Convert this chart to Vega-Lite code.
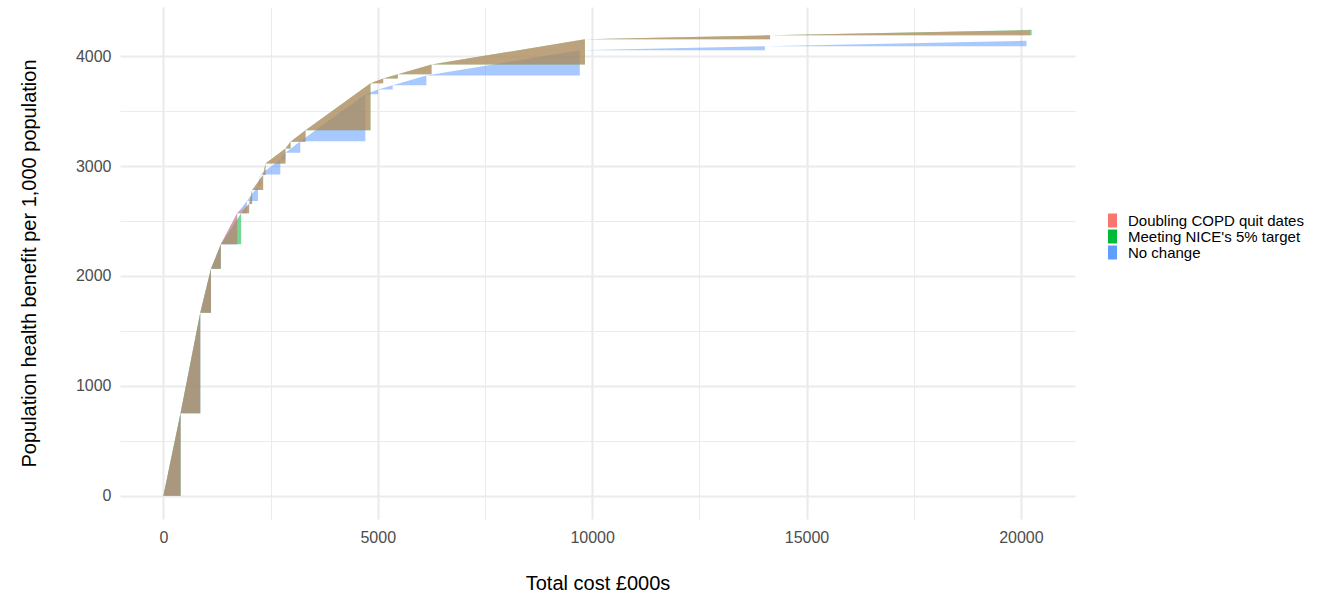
{
  "$schema": "https://vega.github.io/schema/vega-lite/v6.json",
  "width": 955,
  "height": 512,
  "autosize": {"type": "none"},
  "padding": {"left": 120, "top": 7, "right": 247, "bottom": 75},
  "background": "white",
  "config": {
    "view": {"stroke": null},
    "font": "Liberation Sans",
    "axis": {
      "domain": false,
      "ticks": false,
      "tickSize": 0,
      "gridColor": "#EBEBEB",
      "labelColor": "#4D4D4D",
      "labelFontSize": 16,
      "titleFontSize": 20,
      "titleFontWeight": "normal",
      "titleColor": "#000000"
    }
  },
  "data": {
    "values": [
      {"s": "Doubling COPD quit dates", "t": 1, "x": 0, "y": 0, "b": 0},
      {"s": "Doubling COPD quit dates", "t": 1, "x": 400, "y": 750, "b": 0},
      {"s": "Doubling COPD quit dates", "t": 2, "x": 400, "y": 750, "b": 750},
      {"s": "Doubling COPD quit dates", "t": 2, "x": 860, "y": 1665, "b": 750},
      {"s": "Doubling COPD quit dates", "t": 3, "x": 860, "y": 1665, "b": 1665},
      {"s": "Doubling COPD quit dates", "t": 3, "x": 1110, "y": 2065, "b": 1665},
      {"s": "Doubling COPD quit dates", "t": 4, "x": 1110, "y": 2065, "b": 2065},
      {"s": "Doubling COPD quit dates", "t": 4, "x": 1340, "y": 2288, "b": 2065},
      {"s": "Doubling COPD quit dates", "t": 5, "x": 1340, "y": 2288, "b": 2288},
      {"s": "Doubling COPD quit dates", "t": 5, "x": 1720, "y": 2570, "b": 2288},
      {"s": "Doubling COPD quit dates", "t": 6, "x": 1720, "y": 2570, "b": 2570},
      {"s": "Doubling COPD quit dates", "t": 6, "x": 2000, "y": 2655, "b": 2570},
      {"s": "Doubling COPD quit dates", "t": 7, "x": 2000, "y": 2655, "b": 2655},
      {"s": "Doubling COPD quit dates", "t": 7, "x": 2070, "y": 2782, "b": 2655},
      {"s": "Doubling COPD quit dates", "t": 8, "x": 2070, "y": 2782, "b": 2782},
      {"s": "Doubling COPD quit dates", "t": 8, "x": 2326, "y": 2918, "b": 2782},
      {"s": "Doubling COPD quit dates", "t": 9, "x": 2326, "y": 2918, "b": 2918},
      {"s": "Doubling COPD quit dates", "t": 9, "x": 2380, "y": 3024, "b": 2918},
      {"s": "Doubling COPD quit dates", "t": 10, "x": 2380, "y": 3024, "b": 3024},
      {"s": "Doubling COPD quit dates", "t": 10, "x": 2847, "y": 3161, "b": 3024},
      {"s": "Doubling COPD quit dates", "t": 11, "x": 2847, "y": 3161, "b": 3161},
      {"s": "Doubling COPD quit dates", "t": 11, "x": 2964, "y": 3221, "b": 3161},
      {"s": "Doubling COPD quit dates", "t": 12, "x": 2964, "y": 3221, "b": 3221},
      {"s": "Doubling COPD quit dates", "t": 12, "x": 3314, "y": 3327, "b": 3221},
      {"s": "Doubling COPD quit dates", "t": 13, "x": 3314, "y": 3327, "b": 3327},
      {"s": "Doubling COPD quit dates", "t": 13, "x": 4830, "y": 3755, "b": 3327},
      {"s": "Doubling COPD quit dates", "t": 14, "x": 4830, "y": 3755, "b": 3755},
      {"s": "Doubling COPD quit dates", "t": 14, "x": 5127, "y": 3797, "b": 3755},
      {"s": "Doubling COPD quit dates", "t": 15, "x": 5127, "y": 3797, "b": 3797},
      {"s": "Doubling COPD quit dates", "t": 15, "x": 5468, "y": 3836, "b": 3797},
      {"s": "Doubling COPD quit dates", "t": 16, "x": 5468, "y": 3836, "b": 3836},
      {"s": "Doubling COPD quit dates", "t": 16, "x": 6254, "y": 3925, "b": 3836},
      {"s": "Doubling COPD quit dates", "t": 17, "x": 6254, "y": 3925, "b": 3925},
      {"s": "Doubling COPD quit dates", "t": 17, "x": 9832, "y": 4154, "b": 3925},
      {"s": "Doubling COPD quit dates", "t": 18, "x": 9832, "y": 4154, "b": 4154},
      {"s": "Doubling COPD quit dates", "t": 18, "x": 14150, "y": 4190, "b": 4154},
      {"s": "Doubling COPD quit dates", "t": 19, "x": 14150, "y": 4190, "b": 4190},
      {"s": "Doubling COPD quit dates", "t": 19, "x": 20218, "y": 4236, "b": 4190},

      {"s": "Meeting NICE's 5% target", "t": 1, "x": 0, "y": 0, "b": 0},
      {"s": "Meeting NICE's 5% target", "t": 1, "x": 400, "y": 750, "b": 0},
      {"s": "Meeting NICE's 5% target", "t": 2, "x": 400, "y": 750, "b": 750},
      {"s": "Meeting NICE's 5% target", "t": 2, "x": 860, "y": 1665, "b": 750},
      {"s": "Meeting NICE's 5% target", "t": 3, "x": 860, "y": 1665, "b": 1665},
      {"s": "Meeting NICE's 5% target", "t": 3, "x": 1110, "y": 2065, "b": 1665},
      {"s": "Meeting NICE's 5% target", "t": 4, "x": 1110, "y": 2065, "b": 2065},
      {"s": "Meeting NICE's 5% target", "t": 4, "x": 1340, "y": 2288, "b": 2065},
      {"s": "Meeting NICE's 5% target", "t": 5, "x": 1340, "y": 2288, "b": 2288},
      {"s": "Meeting NICE's 5% target", "t": 5, "x": 1813, "y": 2570, "b": 2288},
      {"s": "Meeting NICE's 5% target", "t": 6, "x": 1813, "y": 2570, "b": 2570},
      {"s": "Meeting NICE's 5% target", "t": 6, "x": 2000, "y": 2655, "b": 2570},
      {"s": "Meeting NICE's 5% target", "t": 7, "x": 2000, "y": 2655, "b": 2655},
      {"s": "Meeting NICE's 5% target", "t": 7, "x": 2070, "y": 2782, "b": 2655},
      {"s": "Meeting NICE's 5% target", "t": 8, "x": 2070, "y": 2782, "b": 2782},
      {"s": "Meeting NICE's 5% target", "t": 8, "x": 2326, "y": 2918, "b": 2782},
      {"s": "Meeting NICE's 5% target", "t": 9, "x": 2326, "y": 2918, "b": 2918},
      {"s": "Meeting NICE's 5% target", "t": 9, "x": 2380, "y": 3024, "b": 2918},
      {"s": "Meeting NICE's 5% target", "t": 10, "x": 2380, "y": 3024, "b": 3024},
      {"s": "Meeting NICE's 5% target", "t": 10, "x": 2847, "y": 3161, "b": 3024},
      {"s": "Meeting NICE's 5% target", "t": 11, "x": 2847, "y": 3161, "b": 3161},
      {"s": "Meeting NICE's 5% target", "t": 11, "x": 2964, "y": 3221, "b": 3161},
      {"s": "Meeting NICE's 5% target", "t": 12, "x": 2964, "y": 3221, "b": 3221},
      {"s": "Meeting NICE's 5% target", "t": 12, "x": 3314, "y": 3327, "b": 3221},
      {"s": "Meeting NICE's 5% target", "t": 13, "x": 3314, "y": 3327, "b": 3327},
      {"s": "Meeting NICE's 5% target", "t": 13, "x": 4830, "y": 3755, "b": 3327},
      {"s": "Meeting NICE's 5% target", "t": 14, "x": 4830, "y": 3755, "b": 3755},
      {"s": "Meeting NICE's 5% target", "t": 14, "x": 5127, "y": 3797, "b": 3755},
      {"s": "Meeting NICE's 5% target", "t": 15, "x": 5127, "y": 3797, "b": 3797},
      {"s": "Meeting NICE's 5% target", "t": 15, "x": 5468, "y": 3836, "b": 3797},
      {"s": "Meeting NICE's 5% target", "t": 16, "x": 5468, "y": 3836, "b": 3836},
      {"s": "Meeting NICE's 5% target", "t": 16, "x": 6254, "y": 3925, "b": 3836},
      {"s": "Meeting NICE's 5% target", "t": 17, "x": 6254, "y": 3925, "b": 3925},
      {"s": "Meeting NICE's 5% target", "t": 17, "x": 9832, "y": 4154, "b": 3925},
      {"s": "Meeting NICE's 5% target", "t": 18, "x": 9832, "y": 4154, "b": 4154},
      {"s": "Meeting NICE's 5% target", "t": 18, "x": 14150, "y": 4190, "b": 4154},
      {"s": "Meeting NICE's 5% target", "t": 19, "x": 14150, "y": 4190, "b": 4190},
      {"s": "Meeting NICE's 5% target", "t": 19, "x": 20250, "y": 4240, "b": 4190},

      {"s": "No change", "t": 1, "x": 0, "y": 0, "b": 0},
      {"s": "No change", "t": 1, "x": 400, "y": 750, "b": 0},
      {"s": "No change", "t": 2, "x": 400, "y": 750, "b": 750},
      {"s": "No change", "t": 2, "x": 860, "y": 1665, "b": 750},
      {"s": "No change", "t": 3, "x": 860, "y": 1665, "b": 1665},
      {"s": "No change", "t": 3, "x": 1110, "y": 2065, "b": 1665},
      {"s": "No change", "t": 4, "x": 1110, "y": 2065, "b": 2065},
      {"s": "No change", "t": 4, "x": 1340, "y": 2288, "b": 2065},
      {"s": "No change", "t": 5, "x": 1340, "y": 2288, "b": 2288},
      {"s": "No change", "t": 5, "x": 1720, "y": 2570, "b": 2288},
      {"s": "No change", "t": 6, "x": 1720, "y": 2570, "b": 2570},
      {"s": "No change", "t": 6, "x": 1950, "y": 2682, "b": 2570},
      {"s": "No change", "t": 7, "x": 1950, "y": 2682, "b": 2682},
      {"s": "No change", "t": 7, "x": 2206, "y": 2818, "b": 2682},
      {"s": "No change", "t": 8, "x": 2206, "y": 2818, "b": 2818},
      {"s": "No change", "t": 8, "x": 2260, "y": 2924, "b": 2818},
      {"s": "No change", "t": 9, "x": 2260, "y": 2924, "b": 2924},
      {"s": "No change", "t": 9, "x": 2727, "y": 3061, "b": 2924},
      {"s": "No change", "t": 10, "x": 2727, "y": 3061, "b": 3061},
      {"s": "No change", "t": 10, "x": 2844, "y": 3121, "b": 3061},
      {"s": "No change", "t": 11, "x": 2844, "y": 3121, "b": 3121},
      {"s": "No change", "t": 11, "x": 3194, "y": 3227, "b": 3121},
      {"s": "No change", "t": 12, "x": 3194, "y": 3227, "b": 3227},
      {"s": "No change", "t": 12, "x": 4710, "y": 3655, "b": 3227},
      {"s": "No change", "t": 13, "x": 4710, "y": 3655, "b": 3655},
      {"s": "No change", "t": 13, "x": 5007, "y": 3697, "b": 3655},
      {"s": "No change", "t": 14, "x": 5007, "y": 3697, "b": 3697},
      {"s": "No change", "t": 14, "x": 5348, "y": 3736, "b": 3697},
      {"s": "No change", "t": 15, "x": 5348, "y": 3736, "b": 3736},
      {"s": "No change", "t": 15, "x": 6134, "y": 3825, "b": 3736},
      {"s": "No change", "t": 16, "x": 6134, "y": 3825, "b": 3825},
      {"s": "No change", "t": 16, "x": 9712, "y": 4054, "b": 3825},
      {"s": "No change", "t": 17, "x": 9712, "y": 4054, "b": 4054},
      {"s": "No change", "t": 17, "x": 14030, "y": 4090, "b": 4054},
      {"s": "No change", "t": 18, "x": 14030, "y": 4090, "b": 4090},
      {"s": "No change", "t": 18, "x": 20130, "y": 4140, "b": 4090}
    ]
  },
  "encoding": {
    "x": {
      "field": "x",
      "type": "quantitative",
      "scale": {"domain": [-1012, 21262], "nice": false, "zero": false},
      "axis": {
        "title": "Total cost £000s",
        "values": [0, 2500, 5000, 7500, 10000, 12500, 15000, 17500, 20000],
        "labelExpr": "datum.value % 5000 === 0 ? format(datum.value, 'd') : ''",
        "gridWidth": {"condition": {"test": "datum.value % 5000 !== 0", "value": 1}, "value": 2.2},
        "labelPadding": 10,
        "titlePadding": 28
      }
    },
    "y": {
      "field": "y",
      "type": "quantitative",
      "stack": null,
      "scale": {"domain": [-212, 4448], "nice": false, "zero": false},
      "axis": {
        "title": "Population health benefit per 1,000 population",
        "values": [0, 500, 1000, 1500, 2000, 2500, 3000, 3500, 4000],
        "labelExpr": "datum.value % 1000 === 0 ? format(datum.value, 'd') : ''",
        "gridWidth": {"condition": {"test": "datum.value % 1000 !== 0", "value": 1}, "value": 2.2},
        "labelPadding": 9,
        "titlePadding": 36
      }
    },
    "y2": {"field": "b"},
    "detail": {"field": "t", "type": "nominal"},
    "color": {
      "field": "s",
      "type": "nominal",
      "scale": {
        "domain": ["Doubling COPD quit dates", "Meeting NICE's 5% target", "No change"],
        "range": ["#F8766D", "#00BA38", "#619CFF"]
      },
      "legend": {
        "title": null,
        "orient": "none",
        "legendX": 985,
        "legendY": 206,
        "padding": 0,
        "symbolType": "M-0.64,-1H0.64V1H-0.64Z",
        "symbolSize": 196,
        "symbolOpacity": 1,
        "symbolStrokeWidth": 0,
        "labelFontSize": 15,
        "labelLimit": 0,
        "labelColor": "#000000",
        "labelOffset": 8,
        "rowPadding": -2,
        "encode": {"symbols": {"update": {"fillOpacity": {"value": 1}, "opacity": {"value": 1}}}}
      }
    }
  },
  "layer": [
    {
      "transform": [{"filter": {"field": "s", "equal": "No change"}}],
      "mark": {"type": "area", "fillOpacity": 0.55, "interpolate": "linear"}
    },
    {
      "transform": [{"filter": {"field": "s", "equal": "Meeting NICE's 5% target"}}],
      "mark": {"type": "area", "fillOpacity": 0.55, "interpolate": "linear"}
    },
    {
      "transform": [{"filter": {"field": "s", "equal": "Doubling COPD quit dates"}}],
      "mark": {"type": "area", "fillOpacity": 0.55, "interpolate": "linear"}
    }
  ]
}
